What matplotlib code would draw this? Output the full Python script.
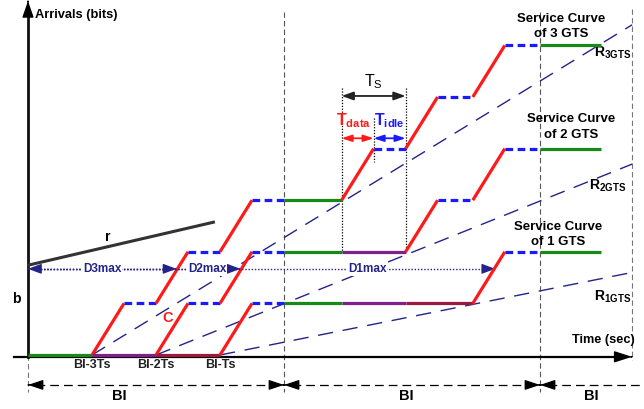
import matplotlib
matplotlib.use("Agg")
import matplotlib.pyplot as plt

plt.rcParams["font.family"] = ["Liberation Sans", "DejaVu Sans"]
plt.rcParams["mathtext.fontset"] = "custom"
plt.rcParams["mathtext.rm"] = "Liberation Sans"
plt.rcParams["mathtext.bf"] = "Liberation Sans:bold"
plt.rcParams["mathtext.it"] = "Liberation Sans:italic"

# time is counted in slots (Ts), arrivals in bits served per slot
BI = 4.0
slot_starts = [1.0, 2.0, 3.0]
slot_labels = ["BI-3Ts", "BI-2Ts", "BI-Ts"]
bi_label_t = [1.43, 5.91, 8.8]

# service curves: corner points and the kind of each piece between them
# g = green (slot owned, waiting), p / m = waiting (purple / maroon),
# r = Tdata (red), b = Tidle (blue dashed)
gts3_t = [0, 1.0, 1.5, 2.0, 2.5, 3.0, 3.5, 4.0, 4.9, 5.4, 5.9, 6.4, 6.95, 7.45, 8.0, 8.95]
gts3_k = [0, 0, 1, 1, 2, 2, 3, 3, 3, 4, 4, 5, 5, 6, 6, 6]
gts3_seg = "grbrbrbgrbrbrbg"

gts2_t = [1.0, 2.0, 2.5, 3.0, 3.5, 4.0, 4.9, 5.9, 6.4, 6.95, 7.45, 8.0, 8.95]
gts2_k = [0, 0, 1, 1, 2, 2, 2, 2, 3, 3, 4, 4, 4]
gts2_seg = "prbrbgprbrbg"

gts1_t = [2.0, 3.0, 3.5, 4.0, 4.9, 5.9, 6.95, 7.45, 8.0, 8.95]
gts1_k = [0, 0, 1, 1, 1, 1, 1, 2, 2, 2]
gts1_seg = "mrbgpmrbg"

# rate-latency bounds R_nGTS
rate_start = [1.0, 2.0, 3.0]
rate_end_t = 9.44
rate_end_k = [6.4, 3.7, 1.6]
rate_labels = [r"$\mathbf{R_{3GTS}}$", r"$\mathbf{R_{2GTS}}$", r"$\mathbf{R_{1GTS}}$"]
rate_label_pos = [(8.84, 5.85), (8.77, 3.28), (8.84, 1.12)]

# arrival curve (token bucket b, r)
r_t = [0, 2.92]
r_k = [1.74, 2.58]

# maximum delays
d_level = 1.67
d_end = [2.32, 3.32, 7.3]
d_labels = ["D3max", "D2max", "D1max"]
d_label_t = [1.16, 2.80, 5.30]

# slot dimensions
ts_left, ts_mid, ts_right = 4.9, 5.4, 5.9

seg_style = {
    "g": dict(color="#198a19", lw=2.3, ls="-"),
    "p": dict(color="#80208a", lw=2.3, ls="-"),
    "m": dict(color="#9a1a40", lw=2.3, ls="-"),
    "r": dict(color="#ff1a1a", lw=2.3, ls="-"),
    "b": dict(color="#1a1aff", lw=2.3, ls=(0, (2.4, 1.4))),
}
navy = "#23238a"

fig = plt.figure(figsize=(6.44, 4.09), dpi=100)
ax = fig.add_axes([0, 0, 1, 1])
ax.set_xlim(-0.4375, 9.625)
ax.set_ylim(-1.0465, 6.88)
ax.axis("off")


def head(x, y, dx, dy, color, hl=0.7, hw=0.3, lw=1.0):
    ax.annotate("", xy=(x, y), xytext=(x - dx, y - dy),
                arrowprops=dict(arrowstyle=f"-|>,head_length={hl},head_width={hw}",
                                color=color, lw=lw, shrinkA=0, shrinkB=0))


# beacon interval boundaries
for xb in [BI, 2 * BI]:
    ax.plot([xb, xb], [6.65, -0.72], color="#555555", lw=0.8, ls=(0, (4.8, 2.9)), zorder=1)
ax.plot([9.44, 9.44], [6.7, -0.1], color="#777777", lw=0.8, ls=(0, (4.8, 2.9)), zorder=1)
ax.plot([0, 0], [0, -0.72], color="#777777", lw=0.8, ls=(0, (4.8, 2.9)), zorder=1)

# BI spans under the time axis
bi_y = -0.58
for a, b in [(0, BI), (BI, 2 * BI), (2 * BI, 9.8)]:
    ax.plot([a + 0.12, b - 0.12], [bi_y, bi_y], color="black", lw=0.9, ls=(0, (7, 4)))
for a in [0, BI, 2 * BI]:
    head(a, bi_y, -0.01, 0, "black", hl=0.9, hw=0.3)
for b in [BI, 2 * BI]:
    head(b, bi_y, 0.01, 0, "black", hl=0.9, hw=0.3)
for t in bi_label_t:
    ax.text(t, -0.79, "BI", fontsize=10.5, fontweight="bold", ha="center", va="center")

# rate-latency lines
for t0, k1 in zip(rate_start, rate_end_k):
    ax.plot([t0, rate_end_t], [0, k1], color=navy, lw=1.0, ls=(0, (11, 7)), zorder=2)
for lab, (tx, ky) in zip(rate_labels, rate_label_pos):
    ax.text(tx, ky, lab, fontsize=10, ha="left", va="center")

# service curves
for ts, ks, segs in [(gts3_t, gts3_k, gts3_seg), (gts2_t, gts2_k, gts2_seg), (gts1_t, gts1_k, gts1_seg)]:
    for i, s in enumerate(segs):
        st = seg_style[s]
        ax.plot(ts[i:i + 2], ks[i:i + 2], color=st["color"], lw=st["lw"], ls=st["ls"],
                solid_capstyle="butt", zorder=4)

# axes with arrows
ax.plot([-0.22, 9.3], [-0.035, -0.035], color="black", lw=1.6, zorder=3)
head(9.44, -0.035, 0.01, 0, "black", hl=1.1, hw=0.35)
ax.plot([0, 0], [-0.035, 6.7], color="#111111", lw=2.0, zorder=3)
head(0, 6.86, 0, 0.01, "black", hl=1.0, hw=0.35)
ax.text(0.11, 6.59, "Arrivals (bits)", fontsize=9.3, fontweight="bold", ha="left", va="center")
ax.text(9.48, 0.29, "Time (sec)", fontsize=9.2, fontweight="bold", ha="right", va="center")

# arrival curve
ax.plot(r_t, r_k, color="#333333", lw=2.2, solid_capstyle="butt", zorder=3)
ax.text(1.25, 2.29, "r", fontsize=10, fontweight="bold", ha="center", va="center")
ax.text(-0.19, 1.09, "b", fontsize=10, fontweight="bold", ha="center", va="center")
ax.text(2.19, 0.72, "C", fontsize=10.5, fontweight="bold", color="#ff1a1a",
        ha="center", va="center")

# delay bounds
for te in d_end:
    ax.plot([0.1, te - 0.1], [d_level, d_level], color=navy, lw=1.0, ls=(0, (1, 1.3)), zorder=5)
    head(te, d_level, 0.01, 0, navy, hl=0.8, hw=0.3)
head(0, d_level, -0.01, 0, navy, hl=0.8, hw=0.3)
for lab, tx in zip(d_labels, d_label_t):
    ax.text(tx, d_level, lab, fontsize=8.5, fontweight="bold", color=navy, ha="center",
            va="center", zorder=6,
            bbox=dict(facecolor="white", edgecolor="none", pad=0.6))

for t, lab in zip(slot_starts, slot_labels):
    ax.text(t, -0.19, lab, fontsize=9, fontweight="bold",
            color="#222222", ha="center", va="center")

# slot dimensioning: Ts, Tdata, Tidle
ax.plot([ts_left, ts_left], [5.17, 2], color="black", lw=0.9, ls=(0, (1, 1.3)), zorder=2)
ax.plot([ts_right, ts_right], [5.17, 2], color="black", lw=0.9, ls=(0, (1, 1.3)), zorder=2)
ax.plot([ts_mid, ts_mid], [4.59, 3.74], color="black", lw=0.9, ls=(0, (1, 1.3)), zorder=2)
ax.annotate("", xy=(ts_right, 5.02), xytext=(ts_left, 5.02),
            arrowprops=dict(arrowstyle="<|-|>,head_length=0.7,head_width=0.25", color="#222222",
                            lw=1.3, shrinkA=0, shrinkB=0))
ax.annotate("", xy=(ts_mid, 4.2), xytext=(ts_left, 4.2),
            arrowprops=dict(arrowstyle="<|-|>,head_length=0.6,head_width=0.2", color="#ff1a1a",
                            lw=1.3, shrinkA=0, shrinkB=0))
ax.annotate("", xy=(ts_right, 4.2), xytext=(ts_mid, 4.2),
            arrowprops=dict(arrowstyle="<|-|>,head_length=0.6,head_width=0.2", color="#1a1aff",
                            lw=1.3, shrinkA=0, shrinkB=0))
ax.text(5.4, 5.3, r"$\mathrm{T_S}$", fontsize=11.5, ha="center", va="center")
ax.text(5.09, 4.55, r"$\mathbf{T_{data}}$", fontsize=11.5, color="#ff1a1a", ha="center", va="center")
ax.text(5.64, 4.55, r"$\mathbf{T_{idle}}$", fontsize=11.5, color="#1a1aff", ha="center", va="center")

# service curve captions
for tx, ky, n in [(8.33, 6.36, 3), (8.48, 4.42, 2), (8.28, 2.34, 1)]:
    ax.text(tx, ky, f"Service Curve\nof {n} GTS", fontsize=9.5, fontweight="bold",
            ha="center", va="center", multialignment="center", linespacing=1.35, zorder=6)

fig.savefig("out.png", dpi=100)
plt.close(fig)
